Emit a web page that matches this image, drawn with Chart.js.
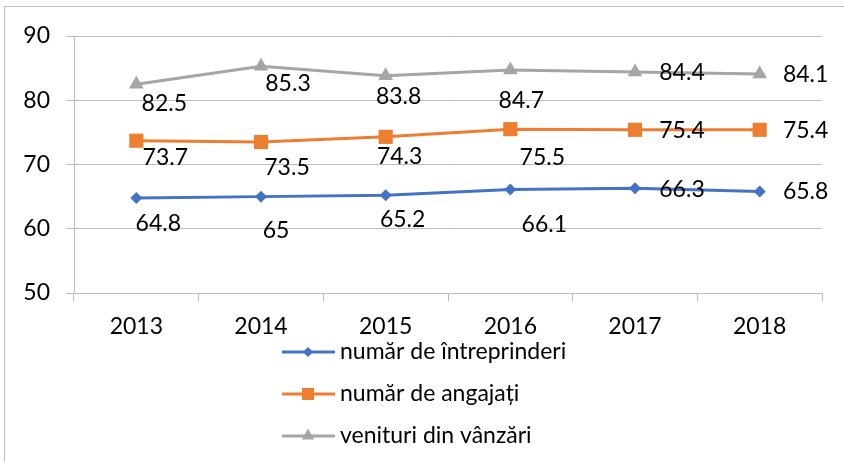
<!DOCTYPE html>
<html>
<head>
<meta charset="utf-8">
<script src="https://cdn.jsdelivr.net/npm/chart.js"></script>
<style>
    html, body { margin: 0; padding: 0; background: #fff; }
    #frame { position: absolute; left: 4px; top: 6px; width: 900px; height: 500px; border: 1px solid #bfbfbf; }
    #wrap { position: absolute; left: 0; top: 0; width: 844px; height: 462px; }
</style>
</head>
<body>
<div id="frame"></div>
<div id="wrap"><canvas id="lineChart" width="844" height="462"></canvas></div>
<script>
// 데이터
const years = ['2013', '2014', '2015', '2016', '2017', '2018'];
const intreprinderi = [64.8, 65, 65.2, 66.1, 66.3, 65.8];
const angajati = [73.7, 73.5, 74.3, 75.5, 75.4, 75.4];
const venituri = [82.5, 85.3, 83.8, 84.7, 84.4, 84.1];
const seriesNames = ['număr de întreprinderi', 'număr de angajați', 'venituri din vânzări'];
const yTicks = [50, 60, 70, 80, 90];

// 라벨 위치 (점 기준 dx, dy)
const labelOffsets = [
    [[22, 26], [15, 34], [17, 24], [34, 35], [47, 1], [46, 0]],
    [[29, 17], [26, 26], [14, 20], [32, 28], [47, 1], [46, 1]],
    [[28, 19], [27, 17], [13, 21], [11, 31], [47, 1], [46, 1]]
];

Chart.defaults.font.family = 'Lato';
Chart.defaults.font.size = 23;
Chart.defaults.color = '#000';

const gridColor = '#bcbcbc';

// 데이터 라벨 플러그인
const valueLabels = {
    id: 'valueLabels',
    afterDatasetsDraw(chart) {
        const ctx = chart.ctx;
        ctx.save();
        ctx.font = '23px Lato';
        ctx.fillStyle = '#000';
        ctx.textAlign = 'center';
        ctx.textBaseline = 'middle';
        chart.data.datasets.forEach((ds, i) => {
            chart.getDatasetMeta(i).data.forEach((pt, j) => {
                const off = labelOffsets[i][j];
                ctx.fillText(String(ds.data[j]), pt.x + off[0], pt.y + off[1]);
            });
        });
        ctx.restore();
    }
};

// 세로 범례 플러그인
const stackedLegend = {
    id: 'stackedLegend',
    afterDraw(chart) {
        const ctx = chart.ctx;
        const x0 = 282;
        ctx.save();
        chart.data.datasets.forEach((ds, i) => {
            const y = chart.chartArea.bottom + 59 + i * 42;
            ctx.strokeStyle = ds.borderColor;
            ctx.lineWidth = 3;
            ctx.beginPath();
            ctx.moveTo(x0, y);
            ctx.lineTo(x0 + 53, y);
            ctx.stroke();
            ctx.fillStyle = ds.backgroundColor;
            Chart.helpers.drawPoint(ctx, { pointStyle: ds.pointStyle, radius: ds.pointRadius * 0.85, rotation: 0, borderWidth: 0 }, x0 + 26, y);
            ctx.fillStyle = '#000';
            ctx.font = '23px Lato';
            ctx.textAlign = 'left';
            ctx.textBaseline = 'middle';
            ctx.fillText(ds.label, x0 + 58, y);
        });
        ctx.restore();
    }
};

const ctx = document.getElementById('lineChart').getContext('2d');
const lineChart = new Chart(ctx, {
    type: 'line',
    data: {
        labels: years,
        datasets: [{
            label: seriesNames[0],
            data: intreprinderi,
            borderColor: '#4472C4',
            backgroundColor: '#4472C4',
            pointStyle: 'rectRot',
            pointRadius: 6
        }, {
            label: seriesNames[1],
            data: angajati,
            borderColor: '#ED7D31',
            backgroundColor: '#ED7D31',
            pointStyle: 'rect',
            pointRadius: 10
        }, {
            label: seriesNames[2],
            data: venituri,
            borderColor: '#A5A5A5',
            backgroundColor: '#A5A5A5',
            pointStyle: 'triangle',
            pointRadius: 8.5
        }]
    },
    options: {
        responsive: false,
        animation: false,
        elements: {
            line: { borderWidth: 3, tension: 0 },
            point: { borderWidth: 0 }
        },
        layout: { padding: { top: 36, right: 22, bottom: 119, left: 0 } },
        scales: {
            x: {
                offset: true,
                afterFit: scale => { scale.height = 50; },
                grid: {
                    offset: true,
                    drawOnChartArea: false,
                    tickLength: 8,
                    color: gridColor
                },
                border: { display: true, color: gridColor },
                ticks: { padding: 12 }
            },
            y: {
                min: 50,
                max: 90,
                afterFit: scale => { scale.width = 74; },
                afterBuildTicks: scale => { scale.ticks = yTicks.map(v => ({ value: v })); },
                grid: { tickLength: 8, color: gridColor },
                border: { display: true, color: gridColor },
                ticks: { padding: 16 }
            }
        },
        plugins: {
            legend: { display: false },
            tooltip: { enabled: false }
        }
    },
    plugins: [valueLabels, stackedLegend]
});
</script>
</body>
</html>
